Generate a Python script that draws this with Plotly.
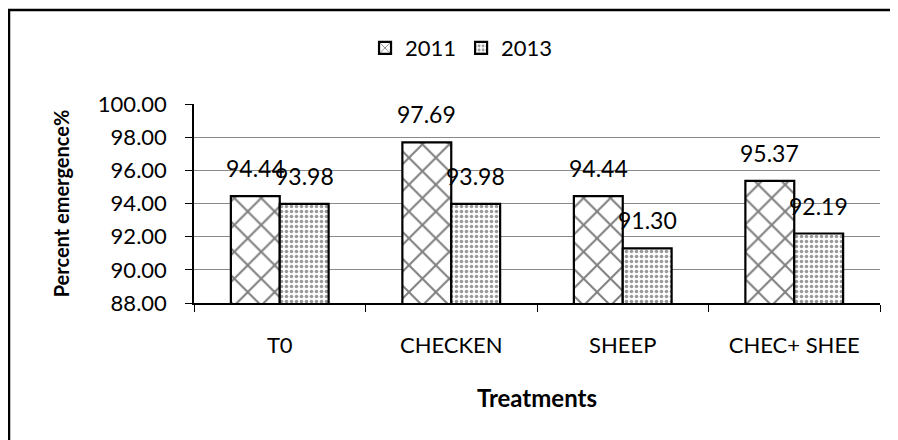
import plotly.graph_objects as go

categories = ["T0", "CHECKEN", "SHEEP", "CHEC+ SHEE"]
series_names = ["2011", "2013"]
values_2011 = [94.44, 97.69, 94.44, 95.37]
values_2013 = [93.98, 93.98, 91.30, 92.19]
y_ticks = [88, 90, 92, 94, 96, 98, 100]

FONT = "Lato"
FS = 22

L, R, T, B = 186, 26, 96, 145
PW, PH = 898 - L - R, 440 - T - B

fig = go.Figure()
fig.add_trace(go.Bar(
    name=series_names[0], x=categories, y=values_2011,
    marker=dict(color="white", line=dict(color="black", width=2.2),
                pattern=dict(shape="x", size=19, solidity=0.2, fgcolor="black", bgcolor="white")),
))
fig.add_trace(go.Bar(
    name=series_names[1], x=categories, y=values_2013,
    marker=dict(color="white", line=dict(color="black", width=2.2),
                pattern=dict(shape=".", size=5, solidity=0.4, fgcolor="#333333", bgcolor="white")),
))

# value labels
offset_px = 24.5
annotations = []
for vals, sh in ((values_2011, -offset_px), (values_2013, offset_px)):
    for c, v in zip(categories, vals):
        annotations.append(dict(x=c, y=v, xref="x", yref="y", text=f"{v:.2f}", showarrow=False,
                                xshift=sh, yshift=12, yanchor="bottom",
                                font=dict(family=FONT, size=23, color="black")))

fig.update_layout(
    width=898, height=440,
    margin=dict(l=L, r=R, t=T, b=B, autoexpand=False),
    paper_bgcolor="white", plot_bgcolor="white",
    barmode="group", bargap=0.43, bargroupgap=0,
    font=dict(family=FONT, size=FS, color="black"),
    legend=dict(orientation="h", x=0.39, xanchor="center", y=1.281, yanchor="middle",
                font=dict(family=FONT, size=22), itemwidth=30, traceorder="normal"),
    annotations=annotations,
    shapes=[dict(type="rect", xref="paper", yref="paper",
                 x0=(1 - L) / PW, x1=(920 - L) / PW,
                 y0=(PH - 470 + T) / PH, y1=1 + (T - 2) / PH,
                 line=dict(color="black", width=2.5), layer="below")],
)
fig.update_yaxes(range=[88, 100], tickvals=y_ticks, tickformat=".2f",
                 showgrid=True, gridcolor="#8a8a8a", gridwidth=1,
                 showline=True, linecolor="black", linewidth=1.5,
                 ticks="outside", ticklen=7, tickcolor="black", ticklabelstandoff=14,
                 zeroline=False,
                 title=dict(text="<b>Percent emergence%</b>", font=dict(family=FONT, size=20), standoff=23))
fig.update_xaxes(showline=True, linecolor="black", linewidth=1.5,
                 ticks="outside", ticklen=7, tickcolor="black", tickson="boundaries",
                 ticklabelstandoff=22,
                 title=dict(text="<b>Treatments</b>", font=dict(family=FONT, size=24), standoff=33))

fig.write_html("out.html")
